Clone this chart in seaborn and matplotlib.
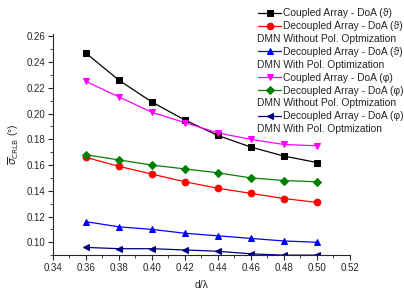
import matplotlib
matplotlib.use("Agg")
import matplotlib.pyplot as plt
import seaborn as sns
import pandas as pd
from matplotlib.ticker import MultipleLocator

sns.set_style("ticks")
plt.rcParams['font.family'] = ['Liberation Sans', 'DejaVu Sans']

d_lambda = [0.36, 0.38, 0.40, 0.42, 0.44, 0.46, 0.48, 0.50]
coupled_theta = [0.247, 0.226, 0.209, 0.195, 0.183, 0.174, 0.167, 0.162]
decoupled_theta_wo = [0.166, 0.159, 0.153, 0.147, 0.142, 0.138, 0.134, 0.131]
decoupled_theta_w = [0.116, 0.112, 0.110, 0.107, 0.105, 0.103, 0.101, 0.100]
coupled_phi = [0.225, 0.213, 0.201, 0.193, 0.185, 0.180, 0.176, 0.175]
decoupled_phi_wo = [0.168, 0.164, 0.160, 0.157, 0.154, 0.150, 0.148, 0.147]
decoupled_phi_w = [0.096, 0.095, 0.095, 0.094, 0.093, 0.091, 0.090, 0.090]

series = [
    ("Coupled Array - DoA (\u03d1)", coupled_theta, "black", "s", None),
    ("Decoupled Array - DoA (\u03d1)", decoupled_theta_wo, "red", "o", "DMN Without Pol. Optmization"),
    ("Decoupled Array - DoA (\u03d1)", decoupled_theta_w, "blue", "^", "DMN With Pol. Optimization"),
    ("Coupled Array - DoA (\u03c6)", coupled_phi, "magenta", "v", None),
    ("Decoupled Array - DoA (\u03c6)", decoupled_phi_wo, "green", "D", "DMN Without Pol. Optmization"),
    ("Decoupled Array - DoA (\u03c6)", decoupled_phi_w, "#000080", "<", "DMN With Pol. Optmization"),
]

fig = plt.figure(figsize=(4.04, 2.97), dpi=100)
ax = fig.add_axes([0.131, 0.141, 0.735, 0.745])

handles, labels, second = [], [], []
for lab, vals, col, mk, sub in series:
    df = pd.DataFrame({"x": d_lambda, "y": vals})
    sns.lineplot(data=df, x="x", y="y", ax=ax, color=col, marker=mk,
                 markersize=4.8 if mk != "D" else 4.2, markeredgecolor=col,
                 linewidth=0.9, legend=False)
    h = ax.lines[-1]
    handles.append(h); labels.append(lab); second.append(False)
    if sub:
        blank, = ax.plot([], [], color="none")
        handles.append(blank); labels.append(sub); second.append(True)

ax.set_xlim(0.34, 0.52)
ax.set_ylim(0.09, 0.262)
ax.xaxis.set_major_locator(MultipleLocator(0.02))
ax.xaxis.set_minor_locator(MultipleLocator(0.01))
ax.yaxis.set_minor_locator(MultipleLocator(0.01))
ax.set_yticks([0.10, 0.12, 0.14, 0.16, 0.18, 0.20, 0.22, 0.24, 0.26])
ax.xaxis.set_major_formatter(matplotlib.ticker.FormatStrFormatter('%.2f'))
ax.yaxis.set_major_formatter(matplotlib.ticker.FormatStrFormatter('%.2f'))
ax.tick_params(axis='both', which='major', length=3.5, width=0.8, labelsize=7, direction='out', pad=2)
ax.tick_params(axis='both', which='minor', length=2, width=0.6, direction='out')
for s in ['top', 'right']:
    ax.spines[s].set_visible(False)
for s in ['left', 'bottom']:
    ax.spines[s].set_linewidth(0.8)

ax.set_xlabel("d/\u03bb", fontsize=7.5, labelpad=5)
ax.set_ylabel(r"$\overline{\sigma}_{\mathrm{CRLB}}$ (°)", fontsize=7.5, labelpad=4)

leg = fig.legend(handles, labels, loc="upper left", bbox_to_anchor=(0.638, 0.972),
                 fontsize=7.4, frameon=False, handlelength=2.3, handletextpad=0.2,
                 labelspacing=0.28, borderpad=0.0, borderaxespad=0)
for t, sec in zip(leg.get_texts(), second):
    if sec:
        t.set_x(-26)

fig.savefig("out.png", dpi=100)
